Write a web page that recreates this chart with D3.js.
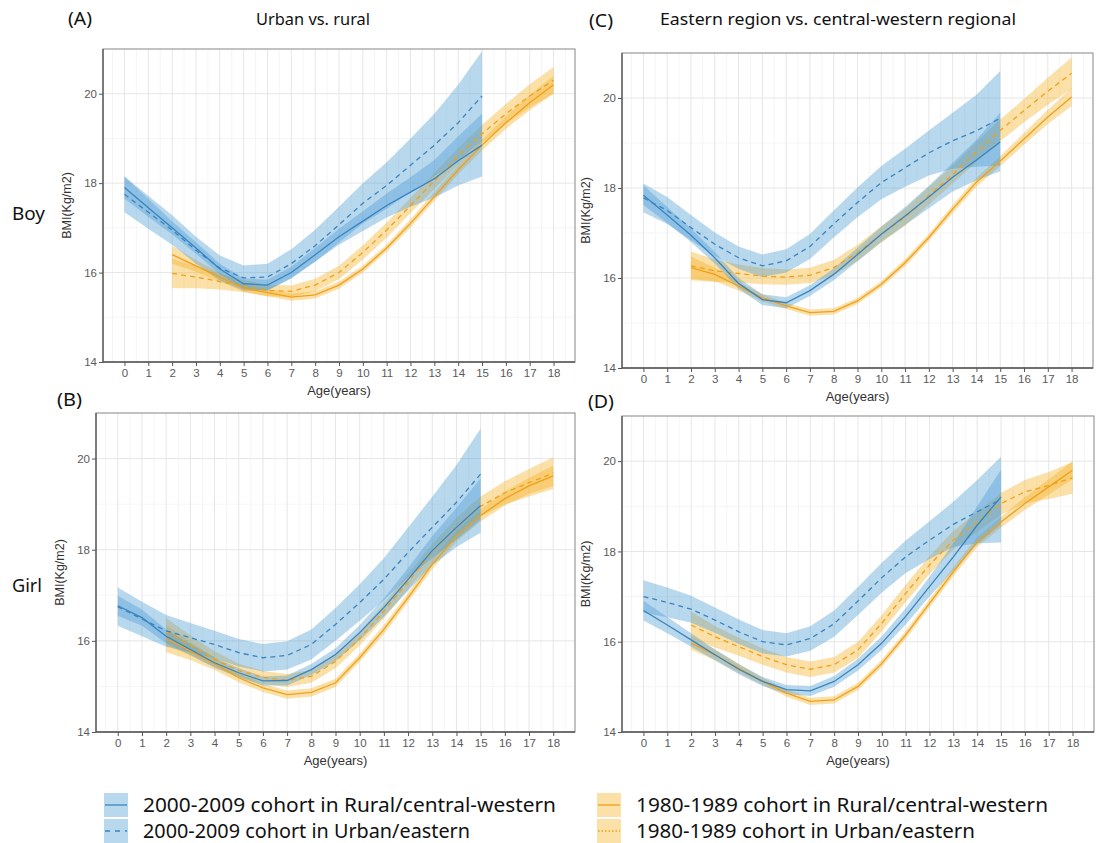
<!DOCTYPE html>
<html>
<head>
<meta charset="utf-8">
<script src="https://cdn.jsdelivr.net/npm/d3@7"></script>
<style>
  html, body { margin: 0; padding: 0; background: #fff; }
  svg { display: block; }
</style>
</head>
<body>
<svg id="chart" width="1103" height="843"></svg>
<script>
// ---------- data ----------
const agesNew = [0,1,2,3,4,5,6,7,8,9,10,11,12,13,14,15];
const agesOld = [2,3,4,5,6,7,8,9,10,11,12,13,14,15,16,17,18];
const xTicks = [0,1,2,3,4,5,6,7,8,9,10,11,12,13,14,15,16,17,18];
const yTicks = [14,16,18,20];

// Panel A: Urban vs rural, boys
const A_newRural   = [17.9,17.45,17.0,16.55,16.08,15.75,15.72,16.0,16.4,16.8,17.15,17.5,17.8,18.1,18.5,18.85];
const A_newRuralCI = [0.25,0.2,0.15,0.13,0.12,0.12,0.12,0.13,0.15,0.18,0.22,0.27,0.33,0.42,0.55,0.7];
const A_newUrban   = [17.75,17.35,16.95,16.5,16.1,15.88,15.9,16.2,16.6,17.07,17.55,17.95,18.4,18.85,19.35,19.95];
const A_newUrbanCI = [0.4,0.37,0.33,0.3,0.28,0.28,0.3,0.32,0.36,0.4,0.45,0.52,0.6,0.7,0.85,1.0];
const A_oldRural   = [16.4,16.15,15.9,15.65,15.55,15.45,15.5,15.72,16.08,16.55,17.1,17.7,18.3,18.85,19.35,19.8,20.2];
const A_oldRuralCI = [0.2,0.13,0.1,0.08,0.08,0.08,0.08,0.08,0.08,0.08,0.09,0.1,0.1,0.12,0.14,0.17,0.2];
const A_oldUrban   = [15.98,15.9,15.8,15.7,15.6,15.58,15.72,16.0,16.45,16.95,17.5,18.05,18.6,19.1,19.55,19.95,20.3];
const A_oldUrbanCI = [0.33,0.25,0.18,0.14,0.13,0.13,0.14,0.15,0.16,0.17,0.17,0.18,0.19,0.2,0.22,0.26,0.3];

// Panel B: Urban vs rural, girls
const B_newRural   = [16.77,16.51,16.1,15.81,15.52,15.3,15.12,15.13,15.37,15.7,16.18,16.73,17.35,17.98,18.49,18.97];
const B_newRuralCI = [0.22,0.18,0.15,0.12,0.11,0.1,0.1,0.11,0.12,0.14,0.17,0.2,0.25,0.32,0.43,0.6];
const B_newUrban   = [16.75,16.48,16.22,16.07,15.92,15.74,15.63,15.68,15.92,16.36,16.84,17.35,17.94,18.49,19.04,19.66];
const B_newUrbanCI = [0.42,0.38,0.35,0.32,0.3,0.3,0.3,0.31,0.33,0.36,0.4,0.46,0.55,0.67,0.82,1.0];
const B_oldRural   = [16.05,15.78,15.5,15.19,14.97,14.82,14.87,15.08,15.63,16.25,16.95,17.68,18.3,18.75,19.12,19.4,19.62];
const B_oldRuralCI = [0.3,0.2,0.14,0.1,0.09,0.09,0.09,0.09,0.09,0.1,0.1,0.11,0.12,0.13,0.15,0.18,0.22];
const B_oldUrban   = [16.2,15.9,15.6,15.35,15.2,15.13,15.22,15.55,16.05,16.65,17.3,17.95,18.5,18.95,19.25,19.47,19.68];
const B_oldUrbanCI = [0.3,0.22,0.17,0.15,0.14,0.14,0.14,0.15,0.15,0.16,0.17,0.18,0.2,0.22,0.25,0.3,0.35];

// Panel C: Eastern vs central-western, boys
const C_newRural   = [17.84,17.4,16.95,16.45,15.88,15.52,15.45,15.72,16.08,16.52,16.97,17.38,17.8,18.24,18.62,19.02];
const C_newRuralCI = [0.22,0.18,0.15,0.13,0.12,0.12,0.12,0.12,0.13,0.15,0.17,0.2,0.25,0.32,0.45,0.65];
const C_newUrban   = [17.78,17.5,17.12,16.75,16.45,16.27,16.38,16.7,17.2,17.68,18.12,18.45,18.78,19.05,19.27,19.55];
const C_newUrbanCI = [0.32,0.3,0.28,0.26,0.25,0.25,0.26,0.28,0.3,0.33,0.37,0.42,0.5,0.62,0.8,1.05];
const C_oldRural   = [16.23,16.08,15.82,15.56,15.38,15.23,15.26,15.49,15.86,16.34,16.9,17.53,18.13,18.6,19.09,19.58,20.02];
const C_oldRuralCI = [0.25,0.15,0.1,0.08,0.07,0.07,0.07,0.07,0.07,0.08,0.08,0.09,0.1,0.11,0.13,0.16,0.2];
const C_oldUrban   = [16.27,16.16,16.1,16.04,16.02,16.06,16.23,16.56,16.97,17.35,17.83,18.3,18.8,19.28,19.72,20.15,20.55];
const C_oldUrbanCI = [0.32,0.25,0.2,0.18,0.17,0.17,0.17,0.18,0.18,0.19,0.2,0.2,0.22,0.24,0.26,0.3,0.35];

// Panel D: Eastern vs central-western, girls
const D_newRural   = [16.69,16.37,16.04,15.71,15.39,15.12,14.94,14.91,15.12,15.49,15.97,16.56,17.22,17.88,18.58,19.21];
const D_newRuralCI = [0.22,0.18,0.15,0.12,0.11,0.1,0.1,0.11,0.12,0.13,0.15,0.18,0.22,0.3,0.42,0.6];
const D_newUrban   = [17.0,16.87,16.72,16.48,16.22,16.0,15.93,16.07,16.4,16.9,17.42,17.88,18.25,18.6,18.88,19.15];
const D_newUrbanCI = [0.36,0.33,0.3,0.28,0.27,0.26,0.26,0.27,0.29,0.31,0.33,0.36,0.42,0.5,0.7,0.95];
const D_oldRural   = [15.97,15.71,15.41,15.12,14.86,14.68,14.71,15.01,15.52,16.15,16.85,17.55,18.21,18.65,19.06,19.43,19.8];
const D_oldRuralCI = [0.15,0.12,0.1,0.08,0.08,0.08,0.08,0.08,0.08,0.09,0.09,0.1,0.11,0.12,0.14,0.17,0.2];
const D_oldUrban   = [16.37,16.11,15.89,15.67,15.49,15.39,15.49,15.82,16.41,17.07,17.7,18.25,18.65,19.06,19.32,19.46,19.63];
const D_oldUrbanCI = [0.3,0.24,0.2,0.18,0.17,0.17,0.17,0.18,0.18,0.19,0.2,0.21,0.22,0.24,0.26,0.3,0.35];

const legendLabels = [
  "2000-2009 cohort in Rural/central-western",
  "2000-2009 cohort in Urban/eastern",
  "1980-1989 cohort in Rural/central-western",
  "1980-1989 cohort in Urban/eastern"
];

// ---------- styles ----------
const BLUE_LINE = "#3a84bf";
const BLUE_FILL = "rgb(77,157,212)";
const ORANGE_LINE = "#f0a01a";
const ORANGE_FILL = "rgb(245,177,37)";
const FILL_OP = 0.4;
const DASH = "5,4";

const panels = [
  { id: "A", left: 103, right: 575, top: 49, bottom: 362,
    newRural: A_newRural, newRuralCI: A_newRuralCI, newUrban: A_newUrban, newUrbanCI: A_newUrbanCI,
    oldRural: A_oldRural, oldRuralCI: A_oldRuralCI, oldUrban: A_oldUrban, oldUrbanCI: A_oldUrbanCI },
  { id: "B", left: 96, right: 575, top: 413, bottom: 732,
    newRural: B_newRural, newRuralCI: B_newRuralCI, newUrban: B_newUrban, newUrbanCI: B_newUrbanCI,
    oldRural: B_oldRural, oldRuralCI: B_oldRuralCI, oldUrban: B_oldUrban, oldUrbanCI: B_oldUrbanCI },
  { id: "C", left: 622, right: 1093, top: 53, bottom: 368,
    newRural: C_newRural, newRuralCI: C_newRuralCI, newUrban: C_newUrban, newUrbanCI: C_newUrbanCI,
    oldRural: C_oldRural, oldRuralCI: C_oldRuralCI, oldUrban: C_oldUrban, oldUrbanCI: C_oldUrbanCI },
  { id: "D", left: 622, right: 1094, top: 416, bottom: 732,
    newRural: D_newRural, newRuralCI: D_newRuralCI, newUrban: D_newUrban, newUrbanCI: D_newUrbanCI,
    oldRural: D_oldRural, oldRuralCI: D_oldRuralCI, oldUrban: D_oldUrban, oldUrbanCI: D_oldUrbanCI }
];

const svg = d3.select("#chart");
const FONT = "Liberation Sans, Arial, sans-serif";
const TFONT = "Noto Sans, Open Sans, sans-serif";

panels.forEach(p => {
  const x = d3.scaleLinear().domain([-0.9, 18.9]).range([p.left, p.right]);
  const y = d3.scaleLinear().domain([14, 21]).range([p.bottom, p.top]);
  const g = svg.append("g");

  g.append("rect").attr("x", p.left).attr("y", p.top)
    .attr("width", p.right - p.left).attr("height", p.bottom - p.top).attr("fill", "#fff");

  // minor grid
  const minorX = d3.range(0, 18, 1).map(v => v + 0.5).concat([-0.5, 18.5]);
  const minorY = [15, 17, 19];
  g.selectAll(".mgx").data(minorX).enter().append("line")
    .attr("x1", d => x(d)).attr("x2", d => x(d)).attr("y1", p.top).attr("y2", p.bottom)
    .attr("stroke", "#f2f2f2").attr("stroke-width", 0.8);
  g.selectAll(".mgy").data(minorY).enter().append("line")
    .attr("x1", p.left).attr("x2", p.right).attr("y1", d => y(d)).attr("y2", d => y(d))
    .attr("stroke", "#f2f2f2").attr("stroke-width", 0.8);
  // major grid
  g.selectAll(".gx").data(xTicks).enter().append("line")
    .attr("x1", d => x(d)).attr("x2", d => x(d)).attr("y1", p.top).attr("y2", p.bottom)
    .attr("stroke", "#e6e6e6").attr("stroke-width", 1);
  g.selectAll(".gy").data(yTicks.filter(v => v > 14)).enter().append("line")
    .attr("x1", p.left).attr("x2", p.right).attr("y1", d => y(d)).attr("y2", d => y(d))
    .attr("stroke", "#e6e6e6").attr("stroke-width", 1);

  const series = [
    { ages: agesOld, v: p.oldUrban, ci: p.oldUrbanCI, line: ORANGE_LINE, fill: ORANGE_FILL, dash: DASH },
    { ages: agesOld, v: p.oldRural, ci: p.oldRuralCI, line: ORANGE_LINE, fill: ORANGE_FILL, dash: null },
    { ages: agesNew, v: p.newUrban, ci: p.newUrbanCI, line: BLUE_LINE, fill: BLUE_FILL, dash: DASH },
    { ages: agesNew, v: p.newRural, ci: p.newRuralCI, line: BLUE_LINE, fill: BLUE_FILL, dash: null }
  ];

  const area = d3.area().x(d => x(d.a)).y0(d => y(d.v - d.c)).y1(d => y(d.v + d.c));
  const line = d3.line().x(d => x(d.a)).y(d => y(d.v));

  series.forEach(s => {
    const pts = s.ages.map((a, i) => ({ a: a, v: s.v[i], c: s.ci[i] }));
    g.append("path").attr("d", area(pts)).attr("fill", s.fill).attr("fill-opacity", FILL_OP);
  });
  series.forEach(s => {
    const pts = s.ages.map((a, i) => ({ a: a, v: s.v[i], c: s.ci[i] }));
    g.append("path").attr("d", line(pts)).attr("fill", "none")
      .attr("stroke", s.line).attr("stroke-width", 1.3)
      .attr("stroke-dasharray", s.dash);
  });

  // border
  g.append("rect").attr("x", p.left).attr("y", p.top)
    .attr("width", p.right - p.left).attr("height", p.bottom - p.top)
    .attr("fill", "none").attr("stroke", "#9a9a9a").attr("stroke-width", 1.2);

  // axes
  const xAxis = d3.axisBottom(x).tickValues(xTicks).tickSize(4).tickPadding(3).tickFormat(d3.format("d"));
  const yAxis = d3.axisLeft(y).tickValues(yTicks).tickSize(4).tickPadding(2).tickFormat(d3.format("d"));
  const gx = g.append("g").attr("transform", `translate(0,${p.bottom})`).call(xAxis);
  const gy = g.append("g").attr("transform", `translate(${p.left},0)`).call(yAxis);
  [gx, gy].forEach(ax => {
    ax.select(".domain").attr("stroke", "#555").attr("stroke-width", 1.3);
    ax.selectAll(".tick line").attr("stroke", "#555");
    ax.selectAll(".tick text").attr("fill", "#5a5a5a").attr("font-size", 11.5).attr("font-family", FONT);
  });
  gx.select(".domain").attr("d", `M${p.left},0H${p.right}`);
  gy.select(".domain").attr("d", `M0,${p.top}V${p.bottom}`);

  // axis titles
  g.append("text").attr("x", (p.left + p.right) / 2).attr("y", p.bottom + 33)
    .attr("text-anchor", "middle").attr("font-size", 13).attr("font-family", FONT)
    .attr("fill", "#333").text("Age(years)");
  g.append("text")
    .attr("transform", `translate(${p.left - 32},${(p.top + p.bottom) / 2}) rotate(-90)`)
    .attr("text-anchor", "middle").attr("font-size", 12.5).attr("font-family", FONT)
    .attr("fill", "#333").text("BMI(Kg/m2)");
});

// panel letters & titles
const titles = [
  { t: "(A)", x: 68, y: 25, anchor: "start", size: 18, w: 24 },
  { t: "(B)", x: 57, y: 406, anchor: "start", size: 18, w: 25 },
  { t: "(C)", x: 589, y: 27, anchor: "start", size: 18, w: 24 },
  { t: "(D)", x: 588, y: 408, anchor: "start", size: 18, w: 26 },
  { t: "Urban vs. rural", x: 256, y: 25, anchor: "start", size: 16.5, w: 114 },
  { t: "Eastern region vs. central-western regional", x: 660, y: 25, anchor: "start", size: 17, w: 356 },
  { t: "Boy", x: 12, y: 220, anchor: "start", size: 18.5, w: 33 },
  { t: "Girl", x: 12, y: 592, anchor: "start", size: 18.5, w: 30 }
];
svg.selectAll(".title").data(titles).enter().append("text")
  .attr("x", d => d.x).attr("y", d => d.y).attr("text-anchor", d => d.anchor)
  .attr("font-size", d => d.size).attr("font-family", TFONT).attr("fill", "#111")
  .attr("textLength", d => d.w).attr("lengthAdjust", "spacingAndGlyphs")
  .text(d => d.t);

// legend
const legendItems = [
  { label: legendLabels[0], x: 104, y: 793, line: BLUE_LINE, fill: BLUE_FILL, dash: null, w: 413 },
  { label: legendLabels[1], x: 104, y: 819, line: BLUE_LINE, fill: BLUE_FILL, dash: "5,5", w: 327 },
  { label: legendLabels[2], x: 597, y: 793, line: ORANGE_LINE, fill: ORANGE_FILL, dash: null, w: 412 },
  { label: legendLabels[3], x: 597, y: 819, line: ORANGE_LINE, fill: ORANGE_FILL, dash: "1.5,2", w: 339 }
];
const lg = svg.append("g");
legendItems.forEach(it => {
  lg.append("rect").attr("x", it.x).attr("y", it.y).attr("width", 24).attr("height", 24)
    .attr("fill", it.fill).attr("fill-opacity", FILL_OP);
  lg.append("line").attr("x1", it.x + 1).attr("x2", it.x + 23)
    .attr("y1", it.y + 12).attr("y2", it.y + 12)
    .attr("stroke", it.line).attr("stroke-width", 1.3).attr("stroke-dasharray", it.dash);
  lg.append("text").attr("x", it.x + 39).attr("y", it.y + 19)
    .attr("font-size", 20).attr("font-family", TFONT).attr("fill", "#111")
    .attr("textLength", it.w).attr("lengthAdjust", "spacingAndGlyphs")
    .text(it.label);
});
</script>
</body>
</html>
